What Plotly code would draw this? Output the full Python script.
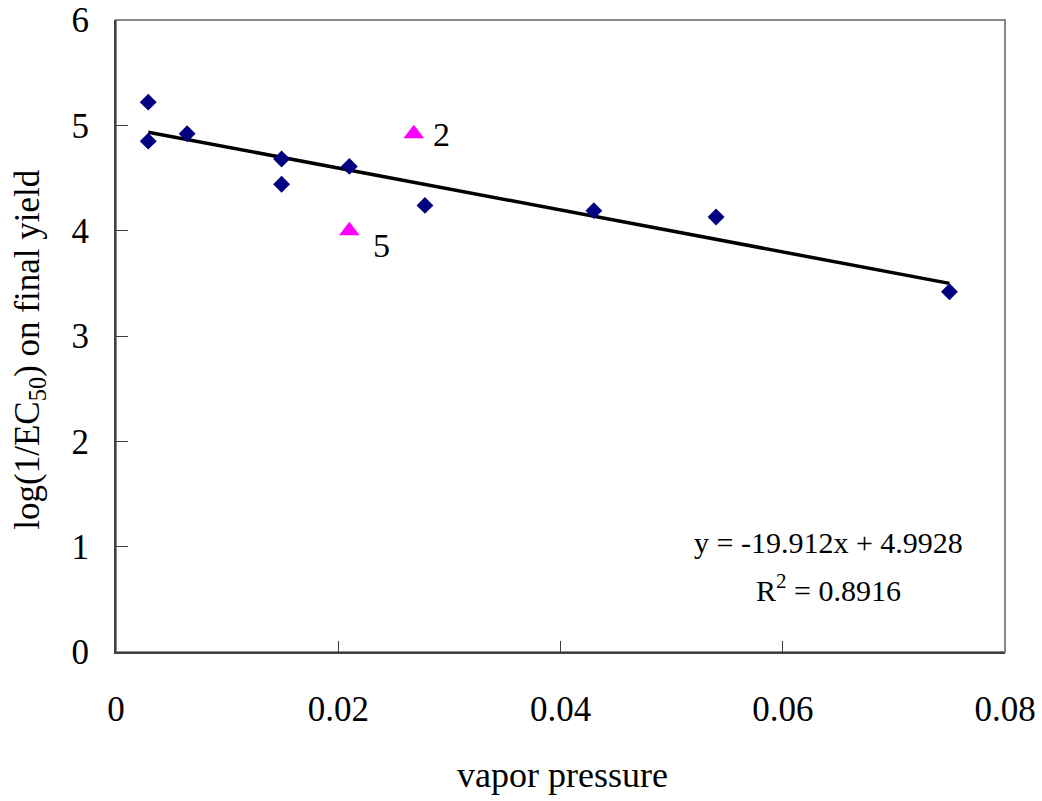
import plotly.graph_objects as go

# Data
vp_main = [0.0029, 0.0029, 0.0064, 0.0149, 0.0149, 0.0210, 0.0278, 0.0430, 0.0540, 0.0750]
y_main = [5.22, 4.85, 4.92, 4.68, 4.44, 4.61, 4.24, 4.19, 4.13, 3.42]

vp_out = [0.0268, 0.0210]
y_out = [4.92, 4.00]
out_labels = ["2", "5"]

slope = -19.912
intercept = 4.9928
r2 = 0.8916
trend_x = [0.0029, 0.0750]
trend_y = [slope * v + intercept for v in trend_x]

x_ticks = [0, 0.02, 0.04, 0.06, 0.08]
x_tick_text = ["0", "0.02", "0.04", "0.06", "0.08"]
y_ticks = [0, 1, 2, 3, 4, 5, 6]

FONT = "Liberation Serif, Times New Roman, serif"

fig = go.Figure()
fig.add_trace(go.Scatter(x=trend_x, y=trend_y, mode="lines",
                         line=dict(color="black", width=3.5), showlegend=False))
fig.add_trace(go.Scatter(x=vp_main, y=y_main, mode="markers",
                         marker=dict(symbol="diamond", size=13, color="#000080"),
                         showlegend=False))
fig.add_trace(go.Scatter(x=vp_out, y=y_out, mode="markers",
                         marker=dict(symbol="triangle-up", size=18, color="#FF00FF"),
                         showlegend=False))

# Plot area border (top/right gray)
fig.add_shape(type="rect", xref="paper", yref="paper", x0=0, y0=0, x1=1, y1=1,
              line=dict(color="#888888", width=2), layer="below")

annotations = []
label_pos = [(0.0293, 4.91), (0.0239, 3.86)]
for (ax_, ay_), t in zip(label_pos, out_labels):
    annotations.append(dict(x=ax_, y=ay_, text=t, showarrow=False,
                            xanchor="center", yanchor="middle",
                            font=dict(family=FONT, size=34, color="black")))
annotations.append(dict(x=0.0641, y=1.04, text="y = -19.912x + 4.9928", showarrow=False,
                        xanchor="center", yanchor="middle",
                        font=dict(family=FONT, size=30, color="black")))
annotations.append(dict(x=0.0641, y=0.61, text="R<sup>2</sup> = %.4f" % r2, showarrow=False,
                        xanchor="center", yanchor="middle",
                        font=dict(family=FONT, size=30, color="black")))
annotations.append(dict(x=-0.097, y=0.478, xref="paper", yref="paper",
                        xanchor="center", yanchor="middle",
                        text="log(1/EC<sub>50</sub>) on final yield", textangle=-90,
                        showarrow=False, font=dict(family=FONT, size=35, color="black")))
annotations.append(dict(x=0.502, y=-0.195, xref="paper", yref="paper",
                        xanchor="center", yanchor="middle",
                        text="vapor pressure", showarrow=False,
                        font=dict(family=FONT, size=36, color="black")))

fig.update_layout(
    width=1042, height=801,
    margin=dict(l=116, r=37, t=20, b=149, autoexpand=False),
    paper_bgcolor="white", plot_bgcolor="white",
    annotations=annotations,
    font=dict(family=FONT, color="black"),
)
fig.update_xaxes(range=[0, 0.08], tickvals=x_ticks, ticktext=x_tick_text,
                 automargin=False,
                 showgrid=False, zeroline=False, showline=True, linecolor="#404040",
                 linewidth=2, ticks="inside", ticklen=11, tickcolor="#404040", tickwidth=1,
                 tickfont=dict(family=FONT, size=35, color="black"),
                 ticklabelstandoff=25)
fig.update_yaxes(range=[0, 6], tickvals=y_ticks,
                 automargin=False,
                 showgrid=False, zeroline=False, showline=True, linecolor="#404040",
                 linewidth=2, ticks="inside", ticklen=12, tickcolor="#404040", tickwidth=1,
                 tickfont=dict(family=FONT, size=35, color="black"),
                 ticklabelstandoff=18)

fig.write_html("out.html")
